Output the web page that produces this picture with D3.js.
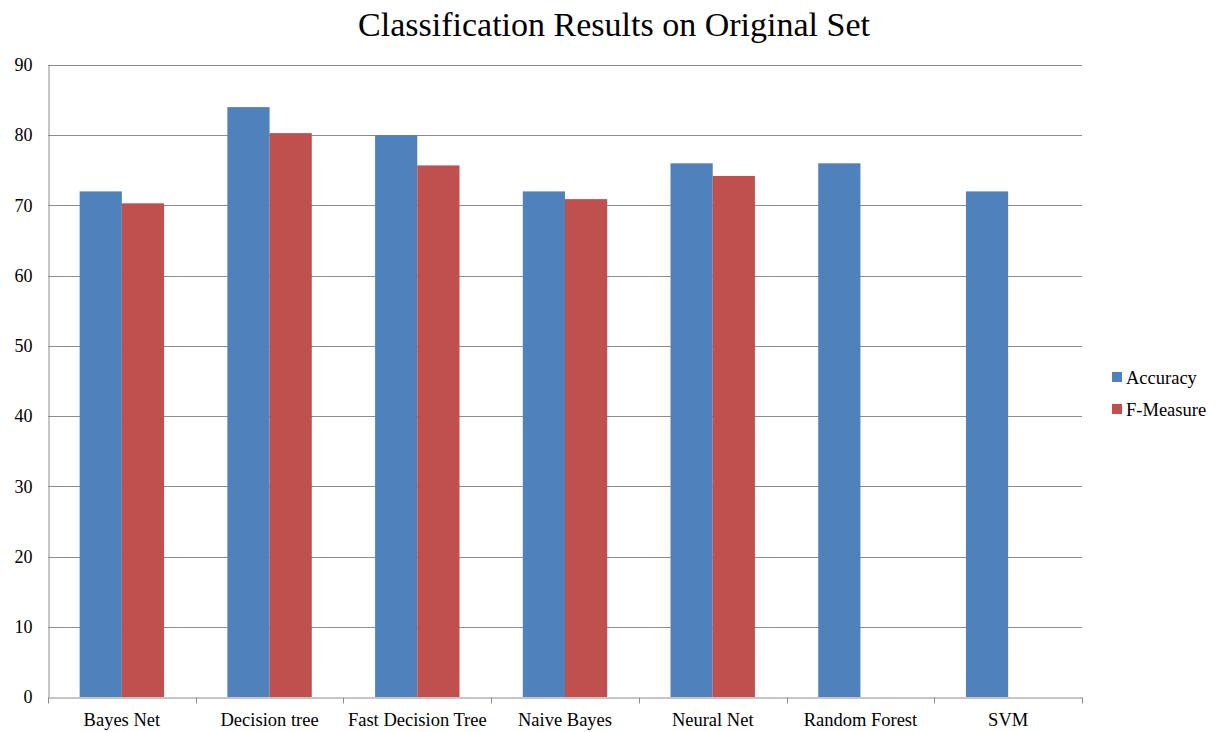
<!DOCTYPE html>
<html>
<head>
<meta charset="utf-8">
<script src="https://cdn.jsdelivr.net/npm/d3@7"></script>
<style>
  html, body { margin: 0; padding: 0; background: #fff; }
  svg { display: block; }
  text { font-family: "Liberation Serif", "DejaVu Serif", serif; fill: #000; }
</style>
</head>
<body>
<svg id="chart" width="1222" height="732"></svg>
<script>
// Chart data
const categories = ["Bayes Net", "Decision tree", "Fast Decision Tree", "Naive Bayes", "Neural Net", "Random Forest", "SVM"];
const seriesNames = ["Accuracy", "F-Measure"];
const accuracy = [72, 84, 80, 72, 76, 76, 72];
const fMeasure = [70.3, 80.3, 75.7, 70.9, 74.2, null, null];
const yTicks = [0, 10, 20, 30, 40, 50, 60, 70, 80, 90];
const seriesColors = ["#4F81BD", "#C0504D"];

const svg = d3.select("#chart");
const margin = { left: 48, right: 140, top: 65, bottom: 35 };
const W = 1222, H = 732;
const plotW = W - margin.left - margin.right;
const plotH = H - margin.top - margin.bottom;

const g = svg.append("g").attr("transform", `translate(${margin.left},${margin.top})`);

const x = d3.scaleBand().domain(categories).range([0, plotW]).paddingInner(0).paddingOuter(0);
// two bars per category, gap between groups 1.5x the bar width
const inner = d3.scaleBand().domain(seriesNames).range([0, x.bandwidth()]).paddingInner(0).paddingOuter(0.75);
const y = d3.scaleLinear().domain([0, 90]).range([plotH, 0]);

// Horizontal gridlines
g.append("g").selectAll("line").data(yTicks.filter(t => t > 0)).join("line")
  .attr("x1", 0).attr("x2", plotW)
  .attr("y1", d => Math.round(y(d)) + 0.5).attr("y2", d => Math.round(y(d)) + 0.5)
  .attr("stroke", "#8c8c8c").attr("stroke-width", 1);

// Y axis
const yAxis = g.append("g")
  .attr("transform", "translate(0.5,0)")
  .call(d3.axisLeft(y).tickValues(yTicks).tickSize(0).tickPadding(16));
yAxis.select(".domain").attr("stroke", "#8c8c8c");
yAxis.selectAll("text").style("font-size", "18px").style("font-family", "'Liberation Serif', serif");

// Bars
const rows = categories.map((c, i) => ({ cat: c, vals: [accuracy[i], fMeasure[i]] }));
const groups = g.append("g").selectAll("g").data(rows).join("g")
  .attr("transform", d => `translate(${x(d.cat)},0)`);
groups.selectAll("rect")
  .data(d => d.vals.map((v, k) => ({ name: seriesNames[k], v, k })).filter(e => e.v != null))
  .join("rect")
  .attr("x", d => inner(d.name))
  .attr("width", inner.bandwidth())
  .attr("y", d => y(d.v))
  .attr("height", d => plotH - y(d.v))
  .attr("fill", d => seriesColors[d.k]);

// X axis
const xAxis = g.append("g")
  .attr("transform", `translate(0,${Math.round(plotH) + 0.5})`)
  .call(d3.axisBottom(x).tickSize(0).tickPadding(15));
xAxis.select(".domain").attr("stroke", "#8c8c8c");
xAxis.selectAll("text").style("font-size", "18.5px").style("font-family", "'Liberation Serif', serif");
// category boundary tick marks
xAxis.append("g").selectAll("line").data(d3.range(categories.length + 1)).join("line")
  .attr("x1", i => Math.round(i * x.bandwidth()) + 0.5)
  .attr("x2", i => Math.round(i * x.bandwidth()) + 0.5)
  .attr("y1", 0).attr("y2", 6)
  .attr("stroke", "#8c8c8c");

// Title
svg.append("text")
  .attr("x", 614).attr("y", 36)
  .attr("text-anchor", "middle")
  .style("font-size", "34px")
  .text("Classification Results on Original Set");

// Legend
const legend = svg.append("g").attr("transform", "translate(1112,372)");
seriesNames.forEach((name, i) => {
  const row = legend.append("g").attr("transform", `translate(0,${i * 32})`);
  row.append("rect").attr("width", 10).attr("height", 10).attr("fill", seriesColors[i]);
  row.append("text").attr("x", 14).attr("y", 12).style("font-size", "18.5px").text(name);
});
</script>
</body>
</html>
